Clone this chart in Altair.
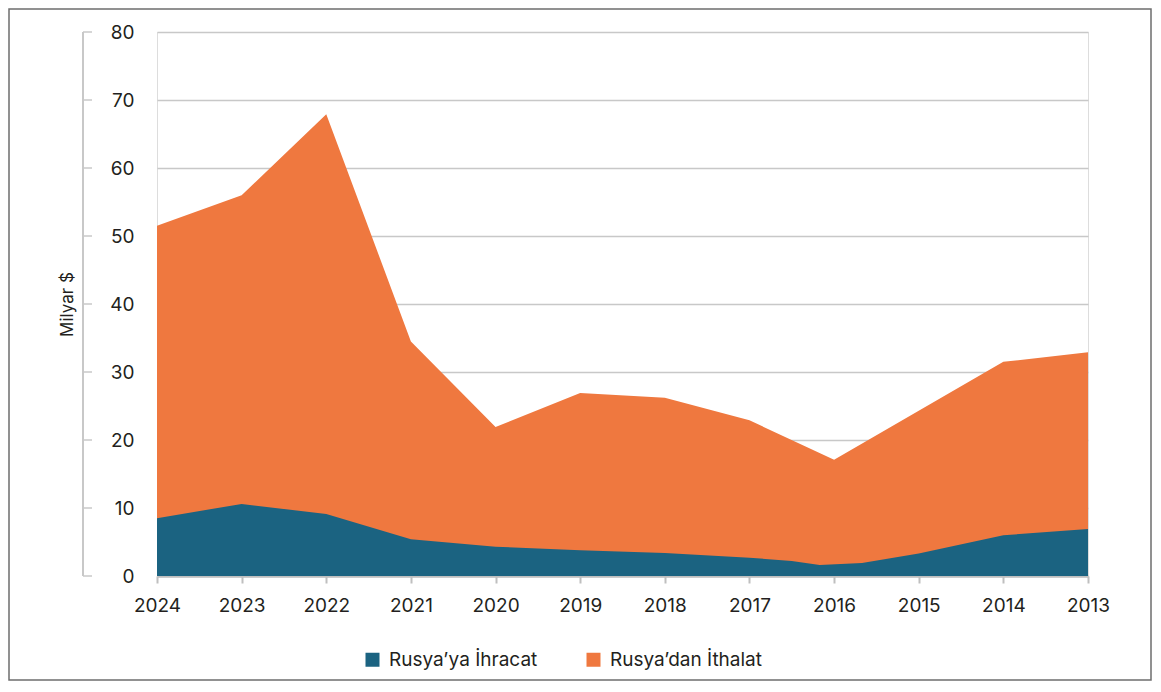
import altair as alt
import pandas as pd

# ---- data ----
years = [2024, 2023, 2022, 2021, 2020, 2019, 2018, 2017, 2016, 2015, 2014, 2013]
total = [51.5, 56.0, 67.9, 34.5, 21.9, 26.9, 26.2, 22.9, 17.1, 24.3, 31.5, 32.9]  # export + import (top of stack)
export_x = [2024, 2023, 2022, 2021, 2020, 2019, 2018, 2017, 2016.5, 2016.17, 2015.67, 2015, 2014, 2013]
export_v = [8.5, 10.6, 9.1, 5.4, 4.3, 3.8, 3.4, 2.7, 2.2, 1.6, 1.9, 3.3, 6.0, 6.9]
y_ticks = [0, 10, 20, 30, 40, 50, 60, 70, 80]

S_EXP = "Rusya’ya İhracat"
S_IMP = "Rusya’dan İthalat"
BLUE = "#1B6381"
ORANGE = "#EF783F"
FONT = "Inter"
FS = 19
TXT = "#231f20"
GRID = "#c8c8c8"

W, H = 931, 544

imp_df = pd.DataFrame({"year": years, "value": total, "series": S_IMP})
exp_df = pd.DataFrame({"year": export_x, "value": export_v, "series": S_EXP})
tick_df = pd.DataFrame({"v": y_ticks})

xscale = alt.Scale(domain=[2013, 2024], reverse=True, nice=False, zero=False)
yscale = alt.Scale(domain=[0, 80], nice=False)
color = alt.Color(
    "series:N",
    scale=alt.Scale(domain=[S_EXP, S_IMP], range=[BLUE, ORANGE]),
    legend=alt.Legend(
        title=None, orient="none", direction="horizontal",
        legendX=206, legendY=618, symbolType="square", symbolSize=196,
        symbolStrokeWidth=0, labelFontSize=FS, labelFont=FONT, labelColor=TXT,
        labelOffset=7, columnPadding=46, padding=0,
    ),
)

xaxis = alt.Axis(
    values=years, format="d", title=None, grid=False, labelFlush=False,
    labelOverlap=False, labelBound=False,
    domainColor="#bfbfbf", domainWidth=2.5, tickColor="#bfbfbf", tickWidth=2,
    tickSize=7, labelPadding=13, labelFontSize=FS, labelFont=FONT, labelColor=TXT,
)
yaxis = alt.Axis(
    values=y_ticks, title="Milyar $", domain=False, ticks=False, grid=True,
    gridColor=GRID, gridWidth=1.5, labelPadding=23, labelFontSize=FS,
    labelFont=FONT, labelColor=TXT, titleFontSize=17, titleFont=FONT,
    titleColor=TXT, titleFontWeight="normal", titleX=-85, titleY=272,
    titleAngle=-90, titleAlign="center", titleBaseline="alphabetic",
)

imp = alt.Chart(imp_df).mark_area(opacity=1).encode(
    x=alt.X("year:Q", scale=xscale, axis=xaxis),
    y=alt.Y("value:Q", scale=yscale, axis=yaxis, stack=None),
    color=color,
)
exp = alt.Chart(exp_df).mark_area(opacity=1).encode(
    x=alt.X("year:Q", scale=xscale),
    y=alt.Y("value:Q", scale=yscale, stack=None),
    color=color,
)

axis_line = alt.Chart(tick_df).mark_rule(color=GRID, strokeWidth=2).encode(
    x=alt.value(-74), y=alt.value(0), y2=alt.value(H)
)
axis_ticks = alt.Chart(tick_df).mark_rule(color=GRID, strokeWidth=1.5).encode(
    y=alt.Y("v:Q", scale=yscale), x=alt.value(-74), x2=alt.value(-65)
)
border = alt.Chart(pd.DataFrame({"a": [0]})).mark_rect(
    fill=None, stroke="#6e6e6e", strokeWidth=1.5
).encode(x=alt.value(-148), x2=alt.value(W + 63), y=alt.value(-23), y2=alt.value(H + 104))

chart = alt.layer(imp, exp, axis_line, axis_ticks, border).properties(
    width=W, height=H,
    autosize=alt.AutoSizeParams(type="none"),
    padding={"left": 149, "top": 24, "right": 65, "bottom": 106},
).configure_view(stroke=None).configure(background="white")

chart.save("out.html", embed_options={"renderer": "svg", "actions": False})
